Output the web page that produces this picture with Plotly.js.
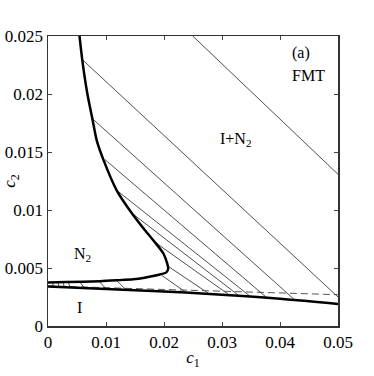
<!DOCTYPE html>
<html>
<head>
<meta charset="utf-8">
<script src="https://cdn.plot.ly/plotly-3.0.1.min.js"></script>
<style>
  html, body { margin: 0; padding: 0; background: #fff; }
  #graph { width: 374px; height: 376px; }
</style>
</head>
<body>
<div id="graph"></div>
<script>
// N2 branch of the binodal (thick curve, top -> tip -> back to c1 = 0)
const n2C1 = [0.00541, 0.0059, 0.00678, 0.00764, 0.0084, 0.00948, 0.01184, 0.01443, 0.01672, 0.0184, 0.0199, 0.02055, 0.02072, 0.02040, 0.01874, 0.01643, 0.0147, 0.01184, 0.009, 0.0032, 0];
const n2C2 = [0.0251, 0.02297, 0.02004, 0.01788, 0.0160, 0.01443, 0.0117, 0.00974, 0.00825, 0.00724, 0.00625, 0.00540, 0.00495, 0.00462, 0.00437, 0.00414, 0.00403, 0.00394, 0.00386, 0.00379, 0.00374];

// I branch of the binodal (thick, lower)
const isoC1 = [0, 0.01, 0.02, 0.03, 0.04, 0.05];
const isoC2 = [0.0034, 0.0032, 0.00298, 0.0027, 0.00235, 0.0019];

// dashed line
const dashC1 = [0, 0.05];
const dashC2 = [0.00345, 0.0027];

// tie lines: N2 end -> I end
const tieAC1 = [0.02495, 0.0059, 0.00764, 0.00983, 0.01184, 0.01443, 0.0184, 0.02055, 0.0196,
                0.0008, 0.0017, 0.0026, 0.0035, 0.0055, 0.0088, 0.0118];
const tieAC2 = [0.025, 0.02297, 0.01788, 0.01434, 0.0117, 0.00974, 0.00724, 0.0052, 0.00437,
                0.00374, 0.00375, 0.00376, 0.00377, 0.00379, 0.00386, 0.00394];
const tieBC1 = [0.05, 0.05, 0.0426, 0.0377, 0.0348, 0.0328, 0.0311, 0.0276, 0.0236,
                0.0009, 0.0019, 0.0028, 0.0038, 0.0062, 0.0100, 0.0134];
const tieBC2 = [0.01308, 0.0025, 0.00222, 0.00245, 0.00258, 0.00266, 0.00273, 0.00284, 0.00296,
                0.00339, 0.00338, 0.00337, 0.00336, 0.00332, 0.00322, 0.00315];

const xTicks = [0, 0.01, 0.02, 0.03, 0.04, 0.05];
const xTickText = ['0', '0.01', '0.02', '0.03', '0.04', '0.05'];
const yTicks = [0, 0.005, 0.01, 0.015, 0.02, 0.025];
const yTickText = ['0', '0.005', '0.01', '0.015', '0.02', '0.025'];

// build tie lines as one trace with gaps
const tieX = [], tieY = [];
tieAC1.forEach((x, i) => {
  tieX.push(x, tieBC1[i], null);
  tieY.push(tieAC2[i], tieBC2[i], null);
});

const serif = 'Liberation Serif';

const data = [
  {
    x: tieX, y: tieY, mode: 'lines', type: 'scatter',
    line: { color: '#222', width: 0.8 }, hoverinfo: 'skip'
  },
  {
    x: dashC1, y: dashC2, mode: 'lines', type: 'scatter',
    line: { color: '#555', width: 1, dash: '7px,4px' }, hoverinfo: 'skip'
  },
  {
    x: isoC1, y: isoC2, mode: 'lines', type: 'scatter',
    line: { color: '#000', width: 2.5, shape: 'spline' }, hoverinfo: 'skip'
  },
  {
    x: n2C1, y: n2C2, mode: 'lines', type: 'scatter',
    line: { color: '#000', width: 2.5, shape: 'spline', smoothing: 0.6 }, hoverinfo: 'skip'
  }
];

const layout = {
  width: 374,
  height: 376,
  margin: { l: 48, r: 36, t: 36, b: 50 },
  paper_bgcolor: '#fff',
  plot_bgcolor: '#fff',
  showlegend: false,
  font: { family: serif, size: 16, color: '#000' },
  xaxis: {
    range: [0, 0.05],
    tickvals: xTicks,
    ticktext: xTickText,
    ticks: 'inside',
    ticklen: 4,
    tickcolor: '#444',
    tickfont: { family: serif, size: 17 },
    showline: true,
    linecolor: '#333',
    linewidth: 1.5,
    mirror: 'ticks',
    showgrid: false,
    zeroline: false,
    title: { text: '<i>c</i><sub>1</sub>', font: { family: serif, size: 17 }, standoff: 0 }
  },
  yaxis: {
    range: [0, 0.025],
    tickvals: yTicks,
    ticktext: yTickText,
    ticks: 'inside',
    ticklen: 4,
    tickcolor: '#444',
    tickfont: { family: serif, size: 17 },
    showline: true,
    linecolor: '#333',
    linewidth: 1.5,
    mirror: 'ticks',
    showgrid: false,
    zeroline: false,
    title: { text: '<i>c</i><sub>2</sub>', font: { family: serif, size: 17 }, standoff: 2 }
  },
  annotations: [
    { x: 0.0436, y: 0.0235, text: '(a)', showarrow: false, font: { family: serif, size: 16 } },
    { x: 0.0449, y: 0.0216, text: 'FMT', showarrow: false, font: { family: serif, size: 16 } },
    { x: 0.0324, y: 0.0161, text: 'I+N<sub>2</sub>', showarrow: false, font: { family: serif, size: 16 } },
    { x: 0.0059, y: 0.0062, text: 'N<sub>2</sub>', showarrow: false, font: { family: serif, size: 16 } },
    { x: 0.0055, y: 0.0016, text: 'I', showarrow: false, font: { family: serif, size: 16 } }
  ]
};

Plotly.newPlot('graph', data, layout, { displayModeBar: false, staticPlot: true });
</script>
</body>
</html>
